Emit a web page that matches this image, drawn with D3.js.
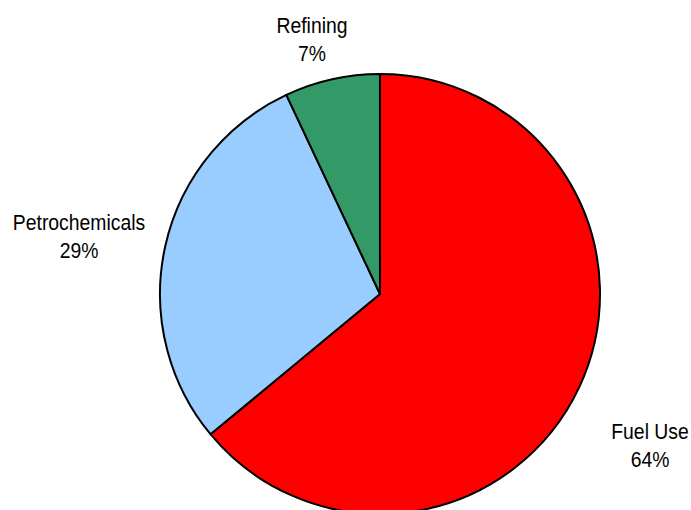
<!DOCTYPE html>
<html>
<head>
<script src="https://cdn.jsdelivr.net/npm/d3@7"></script>
<style>
  * { margin: 0; padding: 0; }
  body { background: #fff; }
</style>
</head>
<body>
<svg id="chart" width="691" height="510"></svg>
<script>
// slice data, clockwise from 12 o'clock
var categories = ["Fuel Use", "Petrochemicals", "Refining"];
var shares = [64, 29, 7];
var colors = ["#FF0000", "#99CCFF", "#339966"];
// where each label sits (centre x, first baseline y)
var labelPos = [[650, 439], [79, 230], [312, 33]];

var svg = d3.select("#chart");
var cx = 380, cy = 294, r = 220;

var pie = d3.pie().sort(null).value(function (d) { return d; });
var arc = d3.arc().innerRadius(0).outerRadius(r);

var g = svg.append("g").attr("transform", "translate(" + cx + "," + cy + ")");

g.selectAll("path")
  .data(pie(shares))
  .enter()
  .append("path")
  .attr("d", arc)
  .attr("fill", function (d, i) { return colors[i]; })
  .attr("stroke", "#000")
  .attr("stroke-width", 2)
  .attr("stroke-linejoin", "round");

// labels: name + percent, slightly condensed like the original
var labels = svg.selectAll("g.label")
  .data(categories)
  .enter()
  .append("g")
  .attr("class", "label")
  .attr("transform", function (d, i) {
    return "translate(" + labelPos[i][0] + "," + labelPos[i][1] + ") scale(0.88,1)";
  });

labels.append("text")
  .attr("text-anchor", "middle")
  .attr("font-family", "Liberation Sans, Arial, sans-serif")
  .attr("font-size", 22)
  .attr("fill", "#000")
  .text(function (d) { return d; });

labels.append("text")
  .attr("y", 28)
  .attr("text-anchor", "middle")
  .attr("font-family", "Liberation Sans, Arial, sans-serif")
  .attr("font-size", 22)
  .attr("fill", "#000")
  .text(function (d, i) { return shares[i] + "%"; });
</script>
</body>
</html>
